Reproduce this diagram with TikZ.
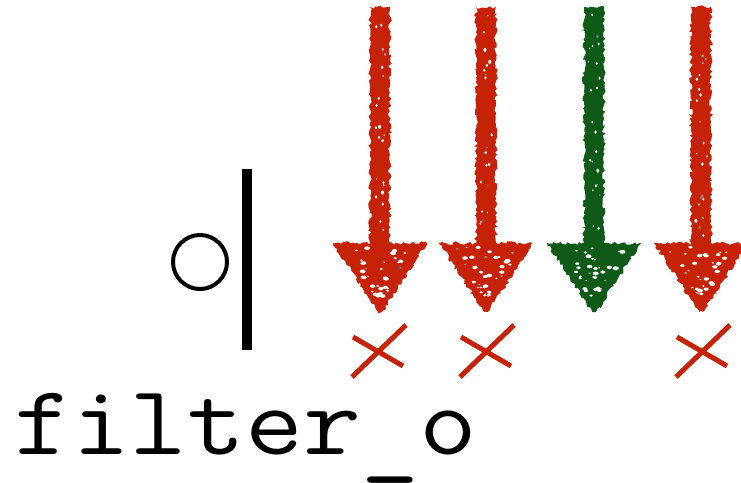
\documentclass[tikz,border=0pt]{standalone}
\usepackage{graphicx}
\usepackage{fontspec}
\usetikzlibrary{decorations.pathmorphing}

\definecolor{chalkred}{RGB}{197,34,8}
\definecolor{chalkgreen}{RGB}{14,90,22}

\tikzset{
  chalk/.style={decorate, decoration={random steps, segment length=2.5pt, amplitude=1.8pt}},
  crossmark/.style={draw=chalkred, line width=5pt},
  barline/.style={line width=10pt},
  ringline/.style={line width=4pt},
}

% a hand-drawn downward arrow centred at x = #1, filled with colour #2
\newcommand\chalkarrow[2]{%
  \begin{scope}[shift={(#1,0)}]
    \fill[#2, chalk]
      (-10,7) -- (10,7) -- (10,243) -- (47,243) -- (2,312) -- (-2,312)
      -- (-47,243) -- (-10,243) -- cycle;
    % worn specks in the head
    \foreach \i in {1,...,34}{
      \pgfmathsetmacro\tt{rnd*0.75}
      \pgfmathsetmacro\yy{247+\tt*66}
      \pgfmathsetmacro\xx{(2*rnd-1)*max(0,40*(1-\tt)-5)}
      \pgfmathsetmacro\rr{0.5+rnd*1.5}
      \fill[white] (\xx,\yy) ellipse[x radius=1.6*\rr, y radius=\rr];
    }
    % worn specks along the shaft
    \foreach \i in {1,...,22}{
      \pgfmathsetmacro\yy{12+rnd*225}
      \pgfmathsetmacro\xx{(2*rnd-1)*6}
      \pgfmathsetmacro\rr{0.4+rnd*1.1}
      \fill[white] (\xx,\yy) ellipse[x radius=\rr, y radius=1.4*\rr];
    }
  \end{scope}}

\begin{document}
\begin{tikzpicture}[x=1pt,y=-1pt]
  \useasboundingbox (0,0) rectangle (741,482);
  \pgfmathsetseed{4711}

  % arrows
  \chalkarrow{380}{chalkred}
  \chalkarrow{486}{chalkred}
  \chalkarrow{594}{chalkgreen}
  \chalkarrow{701}{chalkred}

  % crosses under the rejected arrows
  \foreach \cx in {379,487,703}{
    \draw[crossmark] (\cx-26,337) -- (\cx+24,366);
    \draw[crossmark] (\cx+27,325) -- (\cx-27,377);
  }

  % filter symbol
  \draw[ringline] (200,262) circle[radius=27];
  \draw[barline] (247,169) -- (247,350);

  \node[anchor=base west, inner sep=0pt,
        font=\ttfamily\fontsize{114}{114}\selectfont] (label) at (14,454)
        {\scalebox{0.985}[0.87]{filter\raisebox{-11pt}{\_}o}};
\end{tikzpicture}
\end{document}
